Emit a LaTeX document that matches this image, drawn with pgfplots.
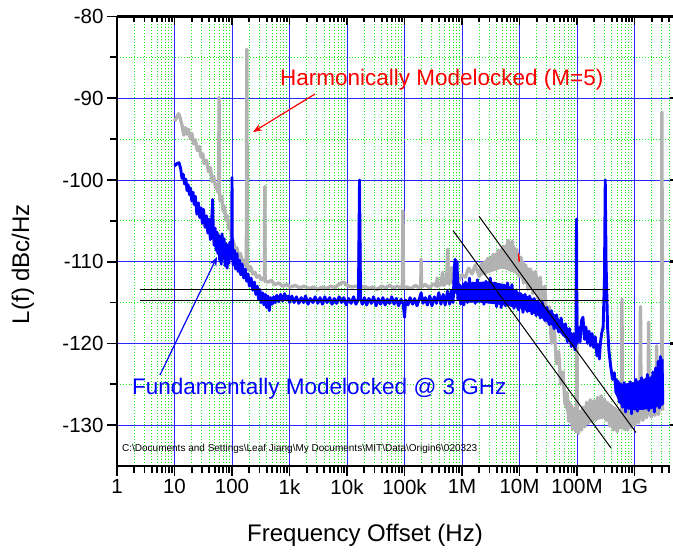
\documentclass[border=0pt]{standalone}
\usepackage{pgfplots}
\pgfplotsset{compat=1.18}
\usepackage{fontspec}
\setmainfont{Liberation Sans}
\usetikzlibrary{arrows.meta}
\definecolor{hgray}{RGB}{178,178,178}
\definecolor{gridgreen}{RGB}{20,235,20}
\definecolor{gridblue}{RGB}{40,40,255}
\begin{document}
\begin{tikzpicture}
\path[use as bounding box] (-117pt,-88pt) rectangle (556pt,466pt);
\begin{axis}[
  at={(0,0)}, anchor=south west, scale only axis,
  width=552.5pt, height=449.5pt,
  xmode=log, xmin=1, xmax=4.06e9, ymin=-135, ymax=-80,
  axis x line*=bottom, axis y line*=left,
  axis line style={line width=2.4pt, black},
  xtick={1,10,100,1000,1e4,1e5,1e6,1e7,1e8,1e9},
  xticklabels={1,10,100,1k,10k,100k,1M,10M,100M,1G},
  minor xtick={2,3,4,5,6,7,8,9,20,30,40,50,60,70,80,90,200,300,400,500,600,700,800,900,2000,3000,4000,5000,6000,7000,8000,9000,2e4,3e4,4e4,5e4,6e4,7e4,8e4,9e4,2e5,3e5,4e5,5e5,6e5,7e5,8e5,9e5,2e6,3e6,4e6,5e6,6e6,7e6,8e6,9e6,2e7,3e7,4e7,5e7,6e7,7e7,8e7,9e7,2e8,3e8,4e8,5e8,6e8,7e8,8e8,9e8,2e9,3e9,4e9},
  ytick={-130,-120,-110,-100,-90,-80},
  yticklabels={-130,-120,-110,-100,-90,-80},
  minor ytick={-125,-115,-105,-95,-85},
  tick align=outside,
  major tick length=10pt, minor tick length=7pt,
  every tick/.style={black, line width=1.8pt},
  grid=both,
  major grid style={gridblue, line width=0.9pt},
  minor grid style={gridgreen, line width=0.9pt, dotted},
  tick label style={font=\fontsize{20.5}{20.5}\selectfont},
  xlabel={Frequency Offset (Hz)},
  ylabel={L(f) dBc/Hz},
  every axis x label/.style={at={(axis description cs:0.4489,-0.1535)}, anchor=center, font=\fontsize{24}{24}\selectfont},
  every axis y label/.style={at={(axis description cs:-0.1701,0.4494)}, anchor=center, rotate=90, font=\fontsize{24}{24}\selectfont},
  clip=true,
]
% gray dense bands
\addplot[fill=hgray, draw=none] coordinates {(2e6,-110.3)(4e6,-108.8)(7e6,-107.4)(9e6,-108.5)(1.3e7,-110.5)(2e7,-111.5)(2.5e7,-113)(2.5e7,-115.5)(2e7,-114.2)(1.3e7,-112.8)(9e6,-111.5)(5e6,-110.8)(2e6,-111.8)} --cycle;
\addplot[fill=hgray, draw=none] coordinates {(6e7,-126)(1e8,-128.4)(2e8,-127)(3e8,-126.8)(5e8,-128.0)(1e9,-128.3)(1e9,-130.0)(5e8,-130.6)(3e8,-129.2)(2e8,-129.4)(1e8,-130.8)(8e7,-130.3)(6e7,-127.5)} --cycle;
% Harmonically modelocked (gray)
\addplot[hgray, line width=3.4pt, line join=round] coordinates {
(10,-92.8)(11,-92.3)(11.8,-91.9)(12.5,-92.4)(13.5,-93.3)(14.5,-94.5)(15.5,-93.6)(16.5,-94.4)(17.5,-93.8)(19,-95.0)(20,-94.3)(21.5,-95.6)(23,-95.1)(25,-96.4)(27,-95.9)(29,-97.2)(31,-96.8)(33,-98.0)(36,-97.6)(39,-99.0)(42,-98.5)(45,-100.2)(48,-99.6)(52,-101.0)(55,-100.5)(57,-101.5)(59,-100.8)(59.5,-89.9)(60.5,-101.5)(62,-102.6)(66,-102.0)(70,-103.8)(74,-103.2)(78,-104.9)(83,-104.4)(88,-106.0)(93,-105.5)(99,-107.0)(101,-107.2)(108,-107.8)(115,-108.6)(122,-108.3)(130,-109.4)(140,-109.0)(150,-110.1)(160,-109.8)(170,-110.5)(178,-110.3)(181,-84.0)(185,-110.8)(195,-111.0)(210,-110.6)(230,-111.5)(250,-111.3)(270,-111.9)(300,-111.7)(320,-112.2)(350,-112.0)(368,-112.3)(372,-100.8)(376,-112.4)(420,-112.5)(480,-112.3)(560,-112.8)(650,-112.6)(760,-113.0)(900,-112.8)(1050,-113.1)(1250,-112.9)(1500,-113.2)(1800,-113.0)(2200,-113.3)(2600,-113.1)(3100,-113.4)(3700,-113.1)(4400,-113.3)(5200,-113.0)(6200,-113.2)(7400,-112.7)(8800,-112.5)(10000,-112.9)(12000,-113.1)(14000,-113.0)(15800,-113.1)(16500,-104.8)(17200,-113.2)(20000,-113.0)(24000,-113.3)(28000,-113.1)(33000,-113.4)(40000,-113.0)(47000,-113.2)(55000,-112.9)(65000,-113.2)(75000,-113.0)(85000,-113.2)(92000,-113.1)(94000,-103.8)(96000,-113.2)(110000,-113.1)(130000,-113.3)(155000,-112.9)(180000,-113.2)(192000,-113.0)(195000,-109.7)(198000,-113.1)(230000,-112.8)(270000,-113.2)(320000,-112.7)(360000,-113.0)(370000,-112.0)(380000,-113.0)(430000,-112.8)(460000,-111.3)(480000,-112.9)(540000,-112.5)(565000,-108.5)(585000,-112.7)(640000,-112.4)(660000,-110.7)(680000,-112.6)(780000,-112.3)(800000,-111.9)(850000,-112.5)
(1e6,-111.6)(1.15e6,-111.9)(1.3e6,-110.8)(1.5e6,-111.5)(1.7e6,-110.4)(2e6,-111.8)(2.2e6,-110.2)(2.5e6,-111.5)(2.8e6,-109.6)(3.1e6,-111.0)(3.5e6,-109.1)(3.9e6,-110.9)(4.3e6,-108.6)(4.7e6,-110.7)(5.2e6,-108.1)(5.7e6,-110.3)(6.3e6,-107.4)(6.9e6,-109.9)(7.5e6,-107.5)(8.2e6,-110.6)(9e6,-108.5)(9.8e6,-111.8)(10.7e6,-109.5)(11.7e6,-112.6)(12.8e6,-110.4)(14e6,-113.4)(15.5e6,-110.9)(17e6,-113.9)(19e6,-111.2)(21e6,-114.5)(23e6,-111.9)(25e6,-116.0)(27.5e6,-113.0)(30e6,-117.5)(33e6,-115.5)(36e6,-120.0)(40e6,-118.0)(44e6,-122.5)(48e6,-121.0)(52e6,-125.0)(57e6,-123.5)(62e6,-127.5)(67e6,-126.0)(72e6,-129.5)(78e6,-127.5)(84e6,-130.5)(90e6,-128.0)(95e6,-130.8)(98e6,-128.5)(99.5e6,-115.5)(101e6,-129.0)(106e6,-131.0)(112e6,-128.3)(120e6,-130.6)(128e6,-127.8)(137e6,-130.2)(147e6,-127.2)(158e6,-129.8)(170e6,-126.9)(183e6,-129.6)(197e6,-127.0)(212e6,-129.4)(228e6,-126.6)(245e6,-129.1)(262e6,-126.4)(280e6,-128.8)(300e6,-126.8)(320e6,-129.4)(345e6,-127.3)(370e6,-130.1)(400e6,-127.8)(430e6,-130.6)(465e6,-128.0)(500e6,-130.8)(540e6,-128.3)(580e6,-130.3)(595e6,-128.5)(605e6,-114.6)(615e6,-129.0)(660e6,-130.5)(710e6,-128.4)(760e6,-130.6)(820e6,-128.6)(880e6,-130.3)(950e6,-128.2)(1.02e9,-130.0)(1.1e9,-128.0)(1.18e9,-129.7)(1.24e9,-127.9)(1.27e9,-115.5)(1.3e9,-128.2)(1.4e9,-129.4)(1.5e9,-127.8)(1.62e9,-129.1)(1.72e9,-127.9)(1.76e9,-117.4)(1.8e9,-128.0)(1.95e9,-129.0)(2.1e9,-127.6)(2.25e9,-128.8)(2.38e9,-127.7)(2.42e9,-120.3)(2.46e9,-128.0)(2.6e9,-128.7)(2.75e9,-127.5)(2.95e9,-127.8)(3.0e9,-91.7)(3.05e9,-128.0)(3.15e9,-128.2)
};
% blue dense bands
\addplot[fill=blue, draw=none] coordinates {(1e6,-112.6)(3e6,-112.4)(6e6,-112.8)(1e7,-113.8)(2e7,-114.7)(4e7,-116.4)(7e7,-118.1)(9.5e7,-119.4)(9.5e7,-120.6)(7e7,-119.7)(4e7,-118.0)(2e7,-116.5)(1e7,-115.7)(5e6,-115.3)(2e6,-115.0)(1e6,-115.0)} --cycle;
\addplot[fill=blue, draw=none] coordinates {(4.5e8,-124.0)(6e8,-125.0)(1e9,-124.7)(2e9,-124.0)(3.1e9,-122.8)(3.1e9,-127.6)(2e9,-128.0)(1e9,-128.2)(6e8,-127.8)(4.5e8,-126.0)} --cycle;
% Fundamentally modelocked (blue)
\addplot[blue, line width=2.9pt, line join=round] coordinates {
(10,-98.3)(11,-98.0)(12,-97.9)(12.8,-98.6)(13.5,-99.8)(14.2,-99.3)(15,-100.5)(15.8,-99.9)(16.5,-101.3)(17.3,-100.6)(18.2,-101.8)(19,-101.0)(20,-102.6)(21,-101.5)(22,-103.0)(23,-102.0)(24.5,-104.2)(26,-102.8)(27.5,-104.6)(29,-103.4)(30.5,-105.3)(32,-103.6)(34,-105.8)(36,-104.4)(38,-106.5)(40,-104.8)(42,-107.3)(44,-105.6)(46,-102.4)(47.5,-106.8)(49,-108.0)(51,-105.9)(53,-108.6)(55,-106.4)(57,-109.0)(59,-106.8)(61,-109.8)(63,-107.0)(65,-110.3)(67,-106.6)(70,-109.5)(73,-107.2)(76,-110.5)(79,-107.8)(82,-110.8)(85,-108.0)(88,-110.2)(92,-107.6)(96,-109.6)(99,-108.2)(100,-99.7)(101.5,-109.0)(105,-110.4)(110,-108.6)(116,-110.9)(122,-109.0)(128,-111.2)(135,-109.8)(142,-111.6)(150,-110.3)(160,-112.0)(170,-110.9)(180,-112.4)(190,-111.5)(200,-113.0)(215,-112.0)(230,-113.5)(245,-112.5)(260,-114.0)(275,-113.0)(290,-114.6)(305,-113.4)(320,-115.0)(340,-113.8)(360,-115.3)(380,-114.0)(400,-115.6)(420,-114.2)(445,-116.0)(470,-114.4)(500,-115.2)(530,-114.3)(560,-115.0)(600,-114.1)(650,-114.9)(700,-114.0)(760,-114.8)(820,-113.9)(880,-114.7)(950,-114.2)(1000,-115.0)
(1100,-114.2)(1200,-115.0)(1320,-114.3)(1450,-115.1)(1600,-114.4)(1750,-115.0)(1900,-114.2)(2100,-115.2)(2300,-114.5)(2550,-115.0)(2800,-114.3)(3100,-115.1)(3400,-114.4)(3750,-115.2)(4100,-114.3)(4500,-115.0)(5000,-114.4)(5500,-115.2)(6000,-114.5)(6600,-115.1)(7300,-114.3)(8000,-115.0)(8800,-114.4)(9700,-115.3)(10700,-114.5)(11800,-115.1)(13000,-114.3)(14300,-115.2)(15800,-114.5)(16500,-100.0)(17200,-114.6)(18500,-115.2)(20000,-114.4)(22000,-115.3)(24000,-114.5)(26500,-115.1)(29000,-114.3)(32000,-115.4)(35000,-114.5)(38500,-115.2)(42000,-114.4)(46000,-115.3)(50000,-114.6)(55000,-115.1)(60000,-114.3)(66000,-115.2)(72000,-114.5)(79000,-115.4)(87000,-114.6)(95000,-115.2)(100000,-116.8)(105000,-114.7)(115000,-115.3)(125000,-114.4)(138000,-115.2)(150000,-114.5)(165000,-115.4)(180000,-114.6)(195000,-113.8)(210000,-115.1)(230000,-114.4)(250000,-115.3)(275000,-114.2)(300000,-115.4)(330000,-114.3)(360000,-115.1)(395000,-113.8)(430000,-115.2)(470000,-114.0)(510000,-115.3)(560000,-113.6)(610000,-115.2)(660000,-113.5)(700000,-115.0)(740000,-110.5)(760000,-109.7)(790000,-113.8)(820000,-110.0)(850000,-114.6)(900000,-112.8)(950000,-115.2)
(1e6,-113.0)(1.08e6,-115.3)(1.15e6,-112.5)(1.25e6,-115.0)(1.35e6,-112.0)(1.45e6,-114.8)(1.55e6,-112.6)(1.7e6,-115.1)(1.85e6,-112.2)(2e6,-114.7)(2.2e6,-112.8)(2.4e6,-115.2)(2.6e6,-112.4)(2.85e6,-114.9)(3.1e6,-112.0)(3.4e6,-115.0)(3.7e6,-112.6)(4e6,-115.5)(4.4e6,-112.9)(4.8e6,-115.6)(5.2e6,-113.0)(5.7e6,-115.4)(6.2e6,-112.6)(6.8e6,-115.2)(7.4e6,-112.8)(8e6,-115.7)(8.8e6,-113.6)(9.6e6,-115.9)(10.5e6,-113.9)(11.5e6,-116.2)(12.5e6,-114.0)(13.7e6,-116.1)(15e6,-114.2)(16.5e6,-116.4)(18e6,-114.5)(19.5e6,-116.6)(21e6,-114.8)(23e6,-116.9)(25e6,-115.0)(27.5e6,-117.2)(30e6,-115.6)(33e6,-117.7)(36e6,-116.0)(40e6,-118.2)(44e6,-116.5)(48e6,-118.6)(53e6,-116.9)(58e6,-119.0)(63e6,-117.6)(68e6,-119.8)(74e6,-118.2)(80e6,-120.4)(86e6,-118.8)(92e6,-120.8)(96e6,-119.5)(98e6,-104.8)(100e6,-120.0)(106e6,-118.0)(113e6,-119.8)(120e6,-117.2)(127e6,-116.8)(135e6,-119.5)(143e6,-118.0)(152e6,-120.0)(162e6,-118.5)(172e6,-120.3)(183e6,-118.8)(195e6,-120.5)(208e6,-119.2)(222e6,-121.5)(235e6,-120.2)(245e6,-121.9)(255e6,-120.0)(268e6,-118.8)(285e6,-118.0)(300e6,-112.0)(310e6,-100.0)(320e6,-110.0)(340e6,-118.0)(360e6,-121.0)(385e6,-122.8)(415e6,-124.4)(445e6,-123.6)(480e6,-126.0)(510e6,-124.6)(545e6,-127.2)(580e6,-125.0)(620e6,-127.8)(660e6,-124.8)(700e6,-128.4)(745e6,-125.2)(790e6,-128.0)(840e6,-124.7)(890e6,-128.6)(940e6,-125.0)(1e9,-127.9)(1.06e9,-124.4)(1.12e9,-128.3)(1.19e9,-125.0)(1.26e9,-127.6)(1.33e9,-124.2)(1.41e9,-128.0)(1.5e9,-124.6)(1.58e9,-127.5)(1.67e9,-123.8)(1.77e9,-128.2)(1.87e9,-124.3)(1.98e9,-127.8)(2.09e9,-123.5)(2.21e9,-128.4)(2.33e9,-123.0)(2.46e9,-127.6)(2.58e9,-122.2)(2.7e9,-127.9)(2.82e9,-121.6)(2.93e9,-127.0)(3.02e9,-122.0)(3.1e9,-127.5)
};
% tiny red trace fragment
\addplot[red, line width=1.5pt] coordinates {(9.6e6,-109.0)(9.9e6,-110.0)};
% reference lines
\addplot[black, line width=1pt] coordinates {(2.5,-113.4)(3.7e8,-113.4)};
\addplot[black, line width=1pt] coordinates {(2.5,-114.7)(3.6e8,-114.7)};
\addplot[black, line width=1pt] coordinates {(7e5,-106.2)(3.9e8,-132.8)};
\addplot[black, line width=1pt] coordinates {(1.98e6,-104.45)(1.06e9,-130.9)};
% annotations
\node[anchor=west, inner sep=0pt, text=red, font=\fontsize{22.5}{22.5}\selectfont] at (axis description cs:0.2950,0.8587) {Harmonically Modelocked (M=5)};
\draw[red, line width=1.2pt, -{Stealth[length=9pt,width=7pt]}] (axis description cs:0.3584,0.8276) -- (axis description cs:0.2462,0.7430);
\node[anchor=west, inner sep=0pt, text=blue, font=\fontsize{22.5}{22.5}\selectfont] at (axis description cs:0.0271,0.1713) {Fundamentally Modelocked @ 3 GHz};
\draw[blue, line width=1.2pt, -{Stealth[length=9pt,width=7pt]}] (axis description cs:0.0778,0.2024) -- (axis description cs:0.1810,0.4650);
\node[anchor=west, inner sep=0pt, font=\fontsize{10}{10}\selectfont] at (axis description cs:0.0090,0.0378) {C:\textbackslash Documents and Settings\textbackslash Leaf Jiang\textbackslash My Documents\textbackslash MIT\textbackslash Data\textbackslash Origin6\textbackslash 020323};
\end{axis}
% top axis with inward ticks
\begin{axis}[
  at={(0,0)}, anchor=south west, scale only axis,
  width=552.5pt, height=449.5pt,
  xmode=log, xmin=1, xmax=4.06e9, ymin=-135, ymax=-80,
  hide y axis, axis x line*=top,
  axis line style={line width=2.4pt, black},
  xtick={1,10,100,1000,1e4,1e5,1e6,1e7,1e8,1e9},
  xticklabels={},
  minor xtick={2,3,4,5,6,7,8,9,20,30,40,50,60,70,80,90,200,300,400,500,600,700,800,900,2000,3000,4000,5000,6000,7000,8000,9000,2e4,3e4,4e4,5e4,6e4,7e4,8e4,9e4,2e5,3e5,4e5,5e5,6e5,7e5,8e5,9e5,2e6,3e6,4e6,5e6,6e6,7e6,8e6,9e6,2e7,3e7,4e7,5e7,6e7,7e7,8e7,9e7,2e8,3e8,4e8,5e8,6e8,7e8,8e8,9e8,2e9,3e9,4e9},
  tick align=inside,
  major tick length=9pt, minor tick length=6pt,
  every tick/.style={black, line width=1.8pt},
]
\addplot[draw=none] coordinates {(10,-100)};
\end{axis}
% right axis ticks
\begin{axis}[
  at={(0,0)}, anchor=south west, scale only axis,
  width=552.5pt, height=449.5pt,
  xmode=log, xmin=1, xmax=4.06e9, ymin=-135, ymax=-80,
  hide x axis, axis y line*=right,
  axis line style={draw=none},
  ytick={-130,-120,-110,-100,-90,-80},
  yticklabels={},
  tick align=outside,
  major tick length=3.5pt,
  every tick/.style={black, line width=2.5pt},
]
\addplot[draw=none] coordinates {(10,-100)};
\end{axis}
\end{tikzpicture}
\end{document}
